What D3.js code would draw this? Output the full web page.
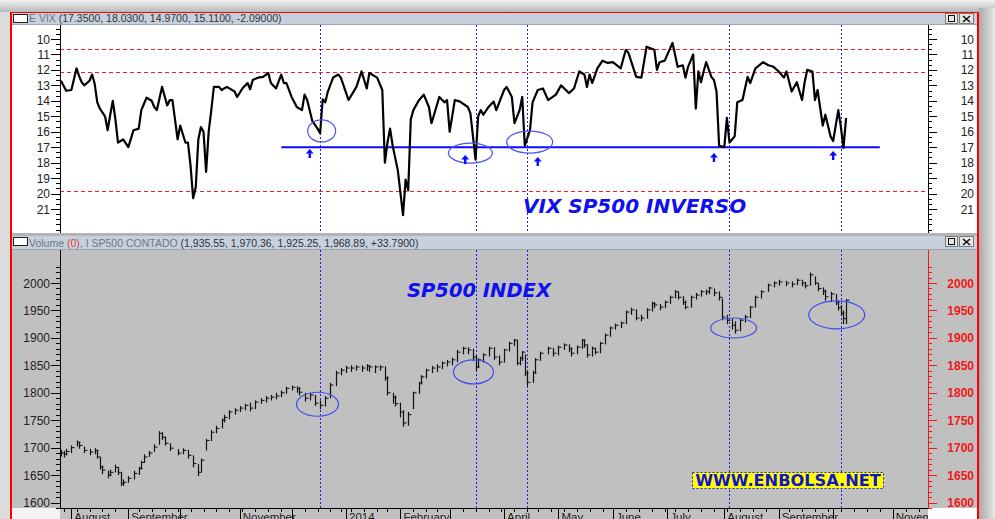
<!DOCTYPE html>
<html>
<head>
<meta charset="utf-8">
<script src="https://cdn.jsdelivr.net/npm/d3@7"></script>
<style>
body { margin: 0; background: #dcdcdc; overflow: hidden; }
svg { display: block; }
</style>
</head>
<body>
<svg id="chart"></svg>
<script>
// ---- datos ----
var holidays = ["2013-09-02", "2013-11-28", "2013-12-25", "2014-01-01", "2014-01-20", "2014-02-17",
    "2014-04-18", "2014-05-26", "2014-07-04", "2014-09-01", "2014-11-27"]
var monthNames = ["August", "September", "", "November", "", "2014", "February", "", "April", "May",
    "June", "July", "August", "September", "", "November"]
var vixTicks = [10, 11, 12, 13, 14, 15, 16, 17, 18, 19, 20, 21]
var spTicks = [1600, 1650, 1700, 1750, 1800, 1850, 1900, 1950, 2000]
var vixGuides = [10.65, 12.12, 19.85] // lineas rojas
var supportLevel = 17
var supportSpan = [85, 316]
var markerDays = [100, 160, 180, 258, 301] // lineas verticales azules
var arrowDays = [96, 156, 184, 252, 298]
var arrowTips = [17.12, 17.5, 17.64, 17.38, 17.25]
var vixCircles = [[100.6, 15.95], [158, 17.38], [180.9, 16.67]]
var spCircles = [[99, 1779], [159.2, 1838], [259.6, 1918], [299.4, 1942]]
var vixTitle = "(17.3500, 18.0300, 14.9700, 15.1100, -2.09000)"
var spTitle = "(1,935.55, 1,970.36, 1,925.25, 1,968.89, +33.7900)"

// [dia de sesion, VIX]
var vixPoints = [[0,12.7],[2,13.35],[4,13.3],[6,11.9],[7,12.4],[8,12.8],[9,13.0],[11,12.7],[12,12.3],[13,12.9],
    [14,14.1],[15,14.5],[17,15.0],[18,15.9],[19,14.9],[20,14.0],[21,15.2],[22,16.7],[24,16.5],[26,17.0],
    [28,15.9],[30,15.8],[31,14.6],[33,13.8],[35,14.0],[36,14.4],[37,14.6],[39,13.1],[41,14.3],[42,13.95],
    [43,13.95],[44,15.2],[45,16.5],[46,15.6],[48,16.7],[49,16.7],[50,18.2],[51,20.3],[52,19.6],[53,16.5],
    [54,15.7],[55,16.0],[56,18.6],[57,16.0],[58,14.6],[59,13.1],[61,13.1],[62,13.3],[64,13.1],[67,13.4],
    [68,13.75],[70,13.2],[72,12.85],[73,13.25],[74,12.65],[76,12.5],[78,12.45],[80,12.2],[81,12.85],[83,13.2],
    [85,12.3],[86,12.85],[87,12.85],[89,13.75],[91,14.4],[93,14.6],[94,13.6],[95,13.95],[97,15.3],[99,15.8],
    [100,16.1],[101,13.9],[102,14.1],[103,13.4],[105,12.5],[107,12.3],[108,12.5],[111,13.95],[114,13.1],[116,12.1],
    [118,13.2],[119,12.2],[122,12.5],[124,13.3],[125,18.0],[126,16.7],[127,15.8],[128,16.9],[130,18.5],[132,21.4],
    [133,19.1],[134,19.8],[135,15.2],[136,14.6],[138,14.0],[140,13.6],[142,14.4],[143,15.45],[146,13.75],[148,14.1],
    [149,13.95],[150,16.0],[152,13.95],[154,14.05],[157,14.4],[158,14.8],[159,16.3],[160,17.8],[161,15.0],[162,14.6],
    [163,14.9],[165,14.4],[167,14.05],[168,14.6],[171,13.3],[172,13.1],[174,13.75],[175,15.45],[177,14.6],[178,13.75],
    [179,16.9],[181,15.9],[182,14.1],[184,13.3],[186,13.2],[188,13.95],[191,13.6],[193,13.0],[196,13.5],[198,13.2],
    [200,12.1],[202,12.3],[203,13.1],[204,12.3],[205,12.85],[207,11.9],[209,11.4],[211,11.55],[213,11.5],[216,11.9],
    [218,10.7],[219,10.9],[222,12.45],[224,12.5],[226,10.5],[229,10.7],[230,12.0],[231,11.5],[233,11.4],[236,10.25],
    [238,11.8],[240,11.7],[241,12.5],[242,11.8],[244,11.0],[245,14.5],[246,12.1],[247,12.8],[248,12.1],[249,11.5],
    [251,12.45],[252,12.65],[253,13.4],[254,16.9],[256,17.0],[257,15.1],[258,16.7],[259,16.5],[260,16.3],[261,14.1],
    [263,13.95],[265,12.45],[266,12.85],[268,11.9],[271,11.5],[273,11.7],[275,11.8],[277,12.1],[279,12.5],[280,12.1],
    [282,13.4],[284,12.8],[286,13.95],[287,12.8],[288,12.0],[290,12.1],[291,13.95],[292,13.3],[294,15.6],[295,14.9],
    [297,16.3],[298,16.6],[300,14.6],[301,15.7],[302,17.05],[303,15.11]]

// [dia de sesion, minimo, maximo, cierre]
var spBars = [[0,1684,1696,1690],[1,1682,1694,1688],[2,1686,1698,1693],[4,1690,1704,1700],[6,1702,1713,1710],
    [7,1698,1710,1704],[9,1690,1702,1695],[11,1686,1698,1692],[13,1688,1699,1695],[14,1680,1696,1683],
    [15,1660,1683,1665],[16,1652,1667,1659],[18,1644,1658,1650],[19,1648,1660,1655],[21,1655,1669,1664],
    [22,1650,1665,1655],[23,1630,1655,1635],[24,1630,1642,1637],[26,1636,1648,1644],[28,1642,1658,1653],
    [30,1650,1665,1662],[31,1660,1676,1673],[32,1672,1688,1683],[34,1683,1694,1690],[36,1692,1706,1701],
    [38,1705,1730,1726],[39,1714,1728,1719],[40,1704,1720,1708],[42,1694,1708,1699],[45,1686,1697,1690],
    [47,1688,1699,1695],[49,1680,1696,1686],[51,1664,1686,1671],[53,1648,1670,1655],[54,1655,1680,1677],
    [56,1695,1716,1713],[58,1712,1732,1728],[60,1726,1740,1735],[62,1735,1753,1750],[63,1746,1760,1755],
    [65,1752,1768,1765],[67,1760,1772,1768],[69,1765,1776,1772],[71,1768,1780,1777],[73,1766,1782,1772],
    [75,1770,1786,1783],[77,1780,1790,1786],[79,1782,1794,1790],[81,1786,1796,1792],[83,1788,1800,1794],
    [85,1792,1804,1800],[87,1798,1811,1808],[89,1804,1813,1810],[91,1800,1812,1808],[92,1795,1810,1801],
    [94,1784,1800,1790],[96,1786,1800,1796],[98,1776,1796,1781],[100,1770,1786,1777],[102,1775,1794,1790],
    [104,1790,1818,1814],[106,1812,1840,1836],[108,1832,1845,1841],[110,1836,1849,1845],[112,1838,1850,1845],
    [114,1840,1850,1847],[116,1838,1850,1845],[118,1840,1852,1849],[119,1838,1850,1847],[121,1836,1850,1847],
    [123,1840,1850,1847],[125,1822,1848,1827],[126,1795,1830,1800],[128,1780,1800,1792],[129,1775,1795,1780],
    [131,1755,1782,1765],[132,1738,1768,1745],[134,1740,1765,1760],[136,1770,1802,1800],[138,1798,1820,1818],
    [139,1815,1832,1829],[141,1826,1844,1841],[143,1836,1849,1845],[145,1838,1852,1847],[147,1843,1857,1854],
    [149,1848,1860,1856],[151,1850,1864,1860],[153,1856,1878,1874],[155,1870,1884,1881],[157,1870,1883,1878],
    [159,1858,1880,1865],[160,1840,1868,1847],[161,1845,1863,1860],[163,1855,1872,1869],[165,1866,1884,1881],
    [167,1860,1883,1865],[169,1850,1868,1856],[171,1855,1880,1878],[173,1875,1893,1890],[175,1885,1898,1896],
    [176,1850,1896,1854],[177,1850,1866,1863],[178,1858,1876,1874],[179,1830,1870,1836],[180,1812,1840,1819],
    [182,1818,1840,1836],[183,1835,1863,1860],[185,1858,1875,1872],[188,1870,1884,1881],[190,1866,1882,1872],
    [192,1868,1886,1883],[194,1878,1890,1887],[196,1874,1888,1881],[197,1866,1882,1872],[199,1870,1886,1883],
    [201,1880,1898,1896],[202,1882,1897,1887],[203,1864,1888,1869],[205,1866,1884,1881],[206,1870,1882,1874],
    [208,1872,1893,1890],[210,1888,1908,1905],[212,1902,1921,1918],[214,1915,1926,1923],[216,1918,1930,1927],
    [218,1925,1950,1947],[220,1942,1955,1951],[222,1932,1952,1936],[224,1930,1942,1936],[226,1935,1954,1951],
    [228,1948,1966,1963],[229,1954,1965,1960],[231,1950,1962,1956],[233,1954,1968,1965],[235,1962,1977,1974],
    [237,1972,1987,1984],[238,1970,1985,1974],[240,1960,1976,1965],[241,1952,1968,1956],[243,1955,1977,1974],
    [245,1970,1982,1978],[247,1975,1987,1984],[249,1978,1988,1984],[250,1980,1993,1991],[252,1976,1990,1982],
    [254,1968,1985,1974],[255,1932,1972,1938],[257,1925,1942,1932],[259,1915,1935,1923],[260,1908,1930,1914],
    [262,1912,1935,1932],[264,1928,1942,1938],[266,1936,1958,1956],[268,1955,1977,1974],[270,1972,1987,1984],
    [273,1984,1999,1996],[275,1992,2003,2000],[277,1995,2006,2002],[280,1994,2004,2000],[282,1992,2003,1998],
    [284,1996,2008,2005],[286,1994,2006,2000],[287,1990,2002,1995],[289,1995,2019,2015],[291,1996,2012,2000],
    [292,1985,2000,1990],[294,1978,1992,1985],[295,1968,1988,1975],[297,1965,1984,1980],[299,1960,1980,1965],
    [300,1950,1968,1955],[301,1940,1960,1945],[302,1925,1950,1935],[303,1925.25,1970.36,1968.89]]

// ---- calendario de sesiones ----
var parseDay = d3.timeParse("%Y-%m-%d"), fmtDay = d3.timeFormat("%Y-%m-%d")
var sessions = d3.timeDay.range(parseDay("2013-07-26"), parseDay("2014-12-01")).filter(function (d) {
    var w = d.getDay()
    return w > 0 && w < 6 && holidays.indexOf(fmtDay(d)) < 0
})
var monthStarts = [], weekStarts = []
sessions.forEach(function (d, i) {
    if (i == 0) return
    if (d.getMonth() != sessions[i - 1].getMonth()) monthStarts.push(i)
    if (d.getDay() < sessions[i - 1].getDay()) weekStarts.push(i)
})

var width = 995, height = 519
var svg = d3.select("#chart").attr("width", width).attr("height", height)
var defs = svg.append("defs")

// escalas
var x = d3.scaleLinear().domain([0, 335]).range([61, 929])
var yV = d3.scaleLinear().domain([10, 21]).range([39, 209])
var yS = d3.scaleLinear().domain([1600, 2000]).range([502.5, 283])
var axL = 60, axR = 928

// ---- marco de ventana ----
var gTop = defs.append("linearGradient").attr("id", "gtop").attr("x1", 0).attr("y1", 0).attr("x2", 0).attr("y2", 1)
gTop.append("stop").attr("offset", 0).attr("stop-color", "#f2f2f2")
gTop.append("stop").attr("offset", 1).attr("stop-color", "#b9b9b9")
var gRight = defs.append("linearGradient").attr("id", "gright")
gRight.append("stop").attr("offset", 0).attr("stop-color", "#a9a9a9")
gRight.append("stop").attr("offset", 1).attr("stop-color", "#e8e8e8")
svg.append("rect").attr("width", width).attr("height", 12).attr("fill", "url(#gtop)")
svg.append("rect").attr("x", 979).attr("y", 8).attr("width", 16).attr("height", height).attr("fill", "url(#gright)")

svg.append("rect").attr("x", 11).attr("y", 13).attr("width", 966).attr("height", 506).attr("fill", "#fff")
// barras de titulo
function titleBar(y0, h) {
    svg.append("rect").attr("x", 11).attr("y", y0).attr("width", 966).attr("height", h).attr("fill", "#c6d1dd")
    svg.append("line").attr("x1", 11).attr("x2", 977).attr("y1", y0 + h - 0.5).attr("y2", y0 + h - 0.5)
        .attr("stroke", "#9aa6b3")
    svg.append("rect").attr("x", 13.5).attr("y", y0 + 1.5).attr("width", 14).attr("height", 8)
        .attr("fill", "#fff").attr("stroke", "#222")
    // botones
    svg.append("rect").attr("x", 945.5).attr("y", y0 + 0.5).attr("width", 12).attr("height", 10)
        .attr("fill", "#e6e6e6").attr("stroke", "#7a7a7a")
    svg.append("rect").attr("x", 948.5).attr("y", y0 + 2.5).attr("width", 6).attr("height", 6)
        .attr("fill", "none").attr("stroke", "#111").attr("stroke-width", 1)
    svg.append("rect").attr("x", 959.5).attr("y", y0 + 0.5).attr("width", 14).attr("height", 10)
        .attr("fill", "#e6e6e6").attr("stroke", "#7a7a7a")
    svg.append("path").attr("d", "M963," + (y0 + 3) + "L970," + (y0 + 9) + "M970," + (y0 + 3) + "L963," + (y0 + 9))
        .attr("stroke", "#111").attr("stroke-width", 1.6)
}
titleBar(13, 12)
svg.append("rect").attr("x", 11).attr("y", 233).attr("width", 966).attr("height", 3).attr("fill", "#b4b4b4")
titleBar(236, 14)

var t1 = svg.append("text").attr("x", 29).attr("y", 22).attr("font-family", "Liberation Sans, Arial")
    .attr("font-size", "10.5px")
t1.append("tspan").attr("fill", "#6c7784").text("E VIX ")
t1.append("tspan").attr("fill", "#333").text(vixTitle)
var t2 = svg.append("text").attr("x", 29).attr("y", 247).attr("font-family", "Liberation Sans, Arial")
    .attr("font-size", "10.5px")
t2.append("tspan").attr("fill", "#6c7784").text("Volume ")
t2.append("tspan").attr("fill", "#e23b3b").text("(0)")
t2.append("tspan").attr("fill", "#6c7784").text(", I SP500 CONTADO ")
t2.append("tspan").attr("fill", "#333").text(spTitle)

// fondo gris del panel inferior
svg.append("rect").attr("x", 11).attr("y", 250).attr("width", 966).attr("height", 258).attr("fill", "#c0c0c0")
svg.append("rect").attr("x", axL).attr("y", 508).attr("width", axR - axL).attr("height", 11).attr("fill", "#c0c0c0")
svg.append("rect").attr("x", 11).attr("y", 508).attr("width", axL - 11).attr("height", 11).attr("fill", "#f3f3f3")

// clips
defs.append("clipPath").attr("id", "clipTop").append("rect").attr("x", axL).attr("y", 25).attr("width", axR - axL).attr("height", 208)
defs.append("clipPath").attr("id", "clipBot").append("rect").attr("x", axL).attr("y", 250).attr("width", axR - axL).attr("height", 258)
defs.append("clipPath").attr("id", "clipAxis").append("rect").attr("x", axL).attr("y", 508).attr("width", axR - axL).attr("height", 11)

// ---- panel VIX ----
var vixPanel = svg.append("g").attr("clip-path", "url(#clipTop)")
vixPanel.selectAll("line.guide").data(vixGuides).enter().append("line")
    .attr("x1", axL).attr("x2", axR).attr("y1", function (d) { return Math.round(yV(d)) + 0.5 })
    .attr("y2", function (d) { return Math.round(yV(d)) + 0.5 })
    .attr("stroke", "#f02020").attr("stroke-dasharray", "4,3")
vixPanel.selectAll("line.mark").data(markerDays).enter().append("line")
    .attr("x1", function (d) { return Math.round(x(d)) + 0.5 }).attr("x2", function (d) { return Math.round(x(d)) + 0.5 })
    .attr("y1", 25).attr("y2", 233).attr("stroke", "#1a1aff").attr("stroke-dasharray", "2,2")
vixPanel.append("line").attr("x1", x(supportSpan[0])).attr("x2", x(supportSpan[1]))
    .attr("y1", yV(supportLevel)).attr("y2", yV(supportLevel)).attr("stroke", "#0a0aff").attr("stroke-width", 2)
vixPanel.append("path").datum(vixPoints)
    .attr("d", d3.line().x(function (d) { return x(d[0]) }).y(function (d) { return yV(d[1]) }))
    .attr("fill", "none").attr("stroke", "#000").attr("stroke-width", 2.2).attr("stroke-linejoin", "round")
var vixRad = [[14, 11], [22, 10], [23, 11]]
vixPanel.selectAll("ellipse").data(vixCircles).enter().append("ellipse")
    .attr("cx", function (d) { return x(d[0]) }).attr("cy", function (d) { return yV(d[1]) })
    .attr("rx", function (d, i) { return vixRad[i][0] }).attr("ry", function (d, i) { return vixRad[i][1] })
    .attr("fill", "none").attr("stroke", "#4a55f0").attr("stroke-width", 1.2)
vixPanel.selectAll("path.arrow").data(arrowDays).enter().append("path")
    .attr("d", function (d, i) {
        var ax = x(d), ay = yV(arrowTips[i])
        return "M" + ax + "," + ay + "L" + (ax - 4) + "," + (ay + 4.5) + "L" + (ax - 1.2) + "," + (ay + 4.5) +
            "L" + (ax - 1.2) + "," + (ay + 9) + "L" + (ax + 1.2) + "," + (ay + 9) + "L" + (ax + 1.2) + "," + (ay + 4.5) +
            "L" + (ax + 4) + "," + (ay + 4.5) + "Z"
    })
    .attr("fill", "#0a0aff")
svg.append("text").attr("x", 523).attr("y", 213).text("VIX SP500 INVERSO")
    .attr("font-family", "DejaVu Sans").attr("font-weight", "bold").attr("font-style", "italic")
    .attr("font-size", "20px").attr("fill", "#1010ee")

// ejes verticales
function vAxis(g, scale, minor, majors, side, color) {
    var x0 = side == "left" ? axL : axR
    var dir = side == "left" ? -1 : 1
    var isTop = scale === yV
    g.append("line").attr("x1", x0 + 0.5).attr("x2", x0 + 0.5).attr("y1", isTop ? 25 : 250)
        .attr("y2", isTop ? 233 : 508).attr("stroke", color)
    g.selectAll("line.mn").data(minor).enter().append("line")
        .attr("x1", x0).attr("x2", x0 + dir * 4)
        .attr("y1", function (d) { return Math.round(scale(d)) + 0.5 }).attr("y2", function (d) { return Math.round(scale(d)) + 0.5 })
        .attr("stroke", color)
    g.selectAll("line.mj").data(majors).enter().append("line")
        .attr("x1", x0).attr("x2", x0 + dir * 9)
        .attr("y1", function (d) { return Math.round(scale(d)) + 0.5 }).attr("y2", function (d) { return Math.round(scale(d)) + 0.5 })
        .attr("stroke", color)
    g.selectAll("text").data(majors).enter().append("text")
        .attr("x", side == "left" ? 50 : 974).attr("y", function (d) { return scale(d) + 4.5 })
        .attr("text-anchor", "end").attr("font-family", "Liberation Sans, Arial").attr("font-size", "12px")
        .attr("font-weight", color != "#000" ? "bold" : "normal")
        .attr("fill", color == "#000" ? "#222" : color)
        .text(function (d) { return d })
}
var vixMinor = d3.range(28, 68).map(function (i) { return i / 3 })
vAxis(svg.append("g"), yV, vixMinor, vixTicks, "left", "#000")
vAxis(svg.append("g"), yV, vixMinor, vixTicks, "right", "#000")

// ---- panel SP500 ----
var spPanel = svg.append("g").attr("clip-path", "url(#clipBot)")
spPanel.selectAll("line.mark").data(markerDays).enter().append("line")
    .attr("x1", function (d) { return Math.round(x(d)) + 0.5 }).attr("x2", function (d) { return Math.round(x(d)) + 0.5 })
    .attr("y1", 250).attr("y2", 508).attr("stroke", "#1a1aff").attr("stroke-dasharray", "2,2")
var bars = spPanel.selectAll("g.bar").data(spBars).enter().append("g")
bars.append("line")
    .attr("x1", function (d) { return Math.round(x(d[0])) + 0.5 }).attr("x2", function (d) { return Math.round(x(d[0])) + 0.5 })
    .attr("y1", function (d) { return yS(d[1]) }).attr("y2", function (d) { return yS(d[2]) })
    .attr("stroke", "#111").attr("stroke-width", 1.2)
bars.append("line")
    .attr("x1", function (d) { return Math.round(x(d[0])) + 0.5 }).attr("x2", function (d) { return Math.round(x(d[0])) + 3.5 })
    .attr("y1", function (d) { return yS(d[3]) }).attr("y2", function (d) { return yS(d[3]) })
    .attr("stroke", "#111")
var spRad = [[21, 12], [20, 12], [23, 10], [28, 14]]
spPanel.selectAll("ellipse").data(spCircles).enter().append("ellipse")
    .attr("cx", function (d) { return x(d[0]) }).attr("cy", function (d) { return yS(d[1]) })
    .attr("rx", function (d, i) { return spRad[i][0] }).attr("ry", function (d, i) { return spRad[i][1] })
    .attr("fill", "none").attr("stroke", "#3f4df0").attr("stroke-width", 1.2)
svg.append("text").attr("x", 407).attr("y", 297).text("SP500 INDEX")
    .attr("font-family", "DejaVu Sans").attr("font-weight", "bold").attr("font-style", "italic")
    .attr("font-size", "19.5px").attr("fill", "#1010ee")
// etiqueta web
svg.append("rect").attr("x", 692.5).attr("y", 472.5).attr("width", 191).attr("height", 16)
    .attr("fill", "#ffff00").attr("stroke", "#2020d0").attr("stroke-dasharray", "2,2")
svg.append("text").attr("x", 788).attr("y", 486).attr("text-anchor", "middle").text("WWW.ENBOLSA.NET")
    .attr("font-family", "DejaVu Sans").attr("font-weight", "bold").attr("font-size", "16.2px").attr("fill", "#1414c8")

var spMinor = d3.range(1590, 2031, 10)
vAxis(svg.append("g"), yS, spMinor, spTicks, "left", "#000")
vAxis(svg.append("g"), yS, spMinor, spTicks, "right", "#f01818")

// eje de fechas
var dateAxis = svg.append("g").attr("clip-path", "url(#clipAxis)")
dateAxis.append("line").attr("x1", axL).attr("x2", axR).attr("y1", 508.5).attr("y2", 508.5).attr("stroke", "#000")
dateAxis.selectAll("line.wk").data(weekStarts).enter().append("line")
    .attr("x1", function (d) { return Math.round(x(d)) + 0.5 }).attr("x2", function (d) { return Math.round(x(d)) + 0.5 })
    .attr("y1", 508).attr("y2", 512).attr("stroke", "#000")
dateAxis.selectAll("line.mo").data(monthStarts).enter().append("line")
    .attr("x1", function (d) { return Math.round(x(d)) + 0.5 }).attr("x2", function (d) { return Math.round(x(d)) + 0.5 })
    .attr("y1", 508).attr("y2", 519).attr("stroke", "#000")
dateAxis.selectAll("text").data(monthStarts).enter().append("text")
    .attr("x", function (d) { return x(d) + 3 }).attr("y", 521)
    .attr("font-family", "Liberation Sans, Arial").attr("font-size", "11.5px").attr("fill", "#222")
    .text(function (d, i) { return monthNames[i] || "" })

// borde rojo
svg.append("line").attr("x1", 10).attr("x2", 979).attr("y1", 12.5).attr("y2", 12.5).attr("stroke", "#ff0000")
svg.append("line").attr("x1", 11).attr("x2", 11).attr("y1", 12).attr("y2", height).attr("stroke", "#ff0000").attr("stroke-width", 2)
svg.append("line").attr("x1", 978).attr("x2", 978).attr("y1", 12).attr("y2", height).attr("stroke", "#ff0000").attr("stroke-width", 2)
</script>
</body>
</html>
